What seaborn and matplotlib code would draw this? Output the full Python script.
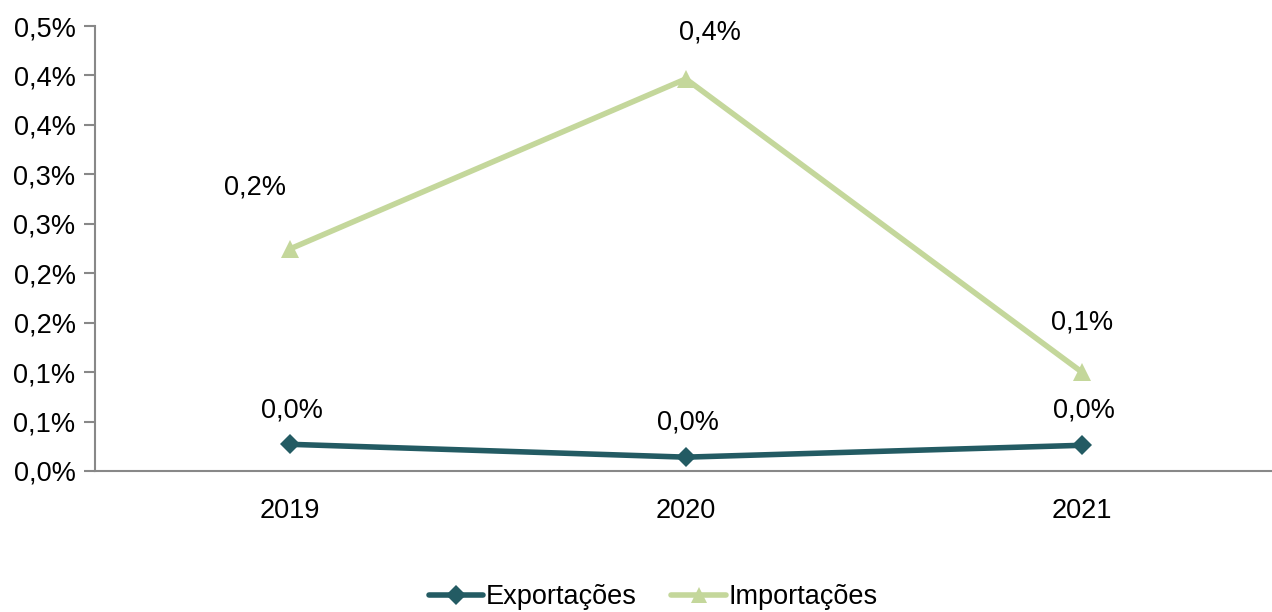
import math
import pandas as pd
import matplotlib
matplotlib.use("Agg")
import matplotlib.pyplot as plt
import seaborn as sns
from matplotlib.ticker import FuncFormatter

years = ["2019", "2020", "2021"]
exportacoes = [0.027, 0.014, 0.026]
importacoes = [0.2245, 0.3965, 0.100]
y_ticks = [0.0, 0.05, 0.10, 0.15, 0.20, 0.25, 0.30, 0.35, 0.40, 0.45]

# label offsets in pixels (imports labels were moved by hand in the original)
exp_offsets = [(2, 34), (2, 35), (2, 35)]
imp_offsets = [(-35, 61), (24, 46), (0, 50)]

COLORS = {"Exportações": "#235B63", "Importações": "#C4D79B"}
MARKERS = {"Exportações": "D", "Importações": "^"}


def pct(v):
    # excel style half-up rounding, comma decimal
    r = math.floor(round(v * 10, 6) + 0.5) / 10
    return f"{r:.1f}%".replace(".", ",")


df = pd.DataFrame({
    "ano": years * 2,
    "valor": exportacoes + importacoes,
    "serie": ["Exportações"] * 3 + ["Importações"] * 3,
})

sns.set_style("white")
plt.rcParams["font.family"] = ["Liberation Sans", "DejaVu Sans"]
plt.rcParams["text.color"] = "black"

fig = plt.figure(figsize=(12.72, 6.12), dpi=100)
ax = fig.add_axes([95 / 1272, 141 / 612, 1 - 95 / 1272, 445 / 612])

sns.lineplot(data=df, x="ano", y="valor", hue="serie", style="serie",
             markers=MARKERS, dashes=False, palette=COLORS, linewidth=4,
             markeredgewidth=0, legend=False, ax=ax)
# marker sizes differ per series
for line, name in zip(ax.get_lines(), COLORS):
    line.set_markersize(10.5 if name == "Exportações" else 13)

for i, v in enumerate(exportacoes):
    ax.annotate(pct(v), (i, v), xytext=exp_offsets[i], textcoords="offset pixels",
                ha="center", va="center", fontsize=19.5, color="black")
for i, v in enumerate(importacoes):
    ax.annotate(pct(v), (i, v), xytext=imp_offsets[i], textcoords="offset pixels",
                ha="center", va="center", fontsize=19.5, color="black")

ax.set_xlim(-0.492, 2.48)
ax.set_ylim(0, 0.45)
ax.set_yticks(y_ticks)
ax.yaxis.set_major_formatter(FuncFormatter(lambda v, _: pct(v)))
ax.set_xlabel("")
ax.set_ylabel("")

for s in ["top", "right"]:
    ax.spines[s].set_visible(False)
for s in ["left", "bottom"]:
    ax.spines[s].set_color("#888888")
    ax.spines[s].set_linewidth(1.5)

ax.tick_params(axis="y", left=True, length=8, width=1.5, color="#888888",
               labelsize=19.5, labelcolor="black", pad=6)
ax.tick_params(axis="x", bottom=False, labelsize=19.5, labelcolor="black", pad=16)

handles = [plt.Line2D([], [], color=COLORS[k], marker=MARKERS[k],
                      markersize=10 if k == "Exportações" else 12,
                      markeredgewidth=0, linewidth=4)
           for k in COLORS]
leg = fig.legend(handles, list(COLORS.keys()), loc="center",
                 bbox_to_anchor=(653 / 1272, 1 - 597 / 612), ncol=2, frameon=False,
                 fontsize=19.5, handlelength=2.0, handletextpad=0.1,
                 columnspacing=1.3)
for t in leg.get_texts():
    t.set_color("black")

fig.savefig("out.png", dpi=100)
